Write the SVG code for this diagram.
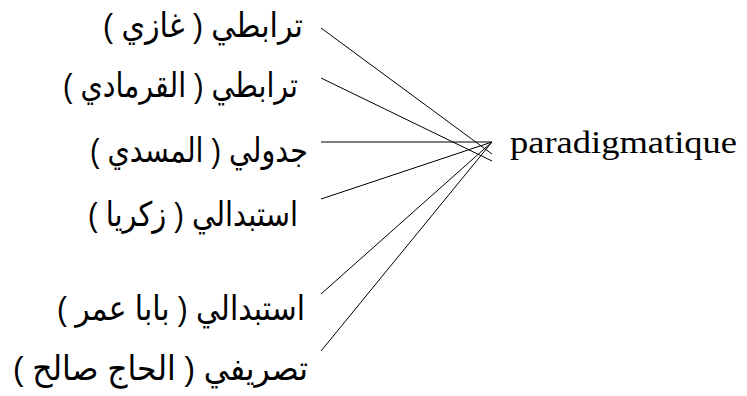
<svg xmlns="http://www.w3.org/2000/svg" width="747" height="396" viewBox="0 0 747 396">
  <style>
    .ar { font-family: "Liberation Sans", Arial, "DejaVu Sans", sans-serif; font-size: 34px; fill: #000; direction: rtl; unicode-bidi: embed; }
    .lat { font-family: "Liberation Serif", "Times New Roman", Times, serif; font-size: 31px; fill: #000; }
    .conn line { stroke: #000; stroke-width: 1; fill: none; }
  </style>
  <rect width="747" height="396" fill="#fff"/>

  <!-- connectors: each label linked to the term on the right -->
  <g id="connectors" class="conn">
    <line x1="321" y1="28" x2="492" y2="154"/>
    <line x1="321" y1="78" x2="492" y2="161"/>
    <line x1="321" y1="142" x2="492" y2="142"/>
    <line x1="321" y1="199" x2="492" y2="142"/>
    <line x1="321" y1="294" x2="492" y2="142"/>
    <line x1="321" y1="351" x2="492" y2="142"/>
  </g>

  <g id="n-ghazi"><text class="ar" x="303" y="37" text-anchor="start" textLength="200" lengthAdjust="spacingAndGlyphs">ترابطي ( غازي )</text></g>
  <g id="n-qarmadi"><text class="ar" x="298" y="97" text-anchor="start" textLength="235" lengthAdjust="spacingAndGlyphs">ترابطي ( القرمادي )</text></g>
  <g id="n-masaddi"><text class="ar" x="308" y="162" text-anchor="start" textLength="218" lengthAdjust="spacingAndGlyphs">جدولي ( المسدي )</text></g>
  <g id="n-zakariya"><text class="ar" x="298" y="226" text-anchor="start" textLength="210" lengthAdjust="spacingAndGlyphs">استبدالي ( زكريا )</text></g>
  <g id="n-babaomar"><text class="ar" x="305" y="320" text-anchor="start" textLength="248" lengthAdjust="spacingAndGlyphs">استبدالي ( بابا عمر )</text></g>
  <g id="n-hajsaleh"><text class="ar" x="308" y="380" text-anchor="start" textLength="295" lengthAdjust="spacingAndGlyphs">تصريفي ( الحاج صالح )</text></g>

  <g id="n-paradigmatique"><text class="lat" x="510" y="153" textLength="227" lengthAdjust="spacingAndGlyphs">paradigmatique</text></g>
</svg>
